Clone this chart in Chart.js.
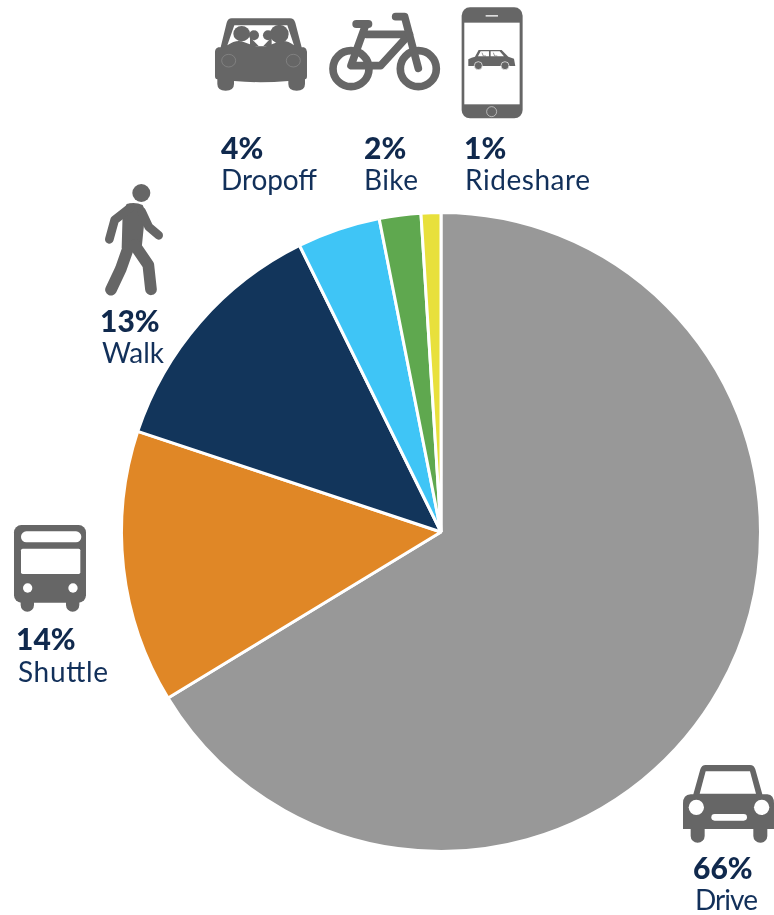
<!DOCTYPE html>
<html>
<head>
<meta charset="utf-8">
<script src="https://cdn.jsdelivr.net/npm/chart.js@4"></script>
<style>
html,body{margin:0;padding:0;background:#fff;width:774px;height:915px;overflow:hidden}
#wrap{position:relative;width:774px;height:915px}
canvas{position:absolute;left:0;top:0}
svg{position:absolute;left:0;top:0}
text{font-family:Lato,sans-serif;font-size:28px;fill:#12305A}
text.pct{font-weight:900;font-size:30px;fill:#10294D}
</style>
</head>
<body>
<div id="wrap">
<canvas id="c" width="774" height="915"></canvas>
<svg id="s" width="774" height="915" viewBox="0 0 774 915">
  <!-- Dropoff car -->
  <g transform="translate(200,0) scale(0.3333)" fill="#666">
    <path d="M95 55H270Q282 55 286 68L305 142H312Q320 145 321 155V228Q321 238 315 238V252Q315 272 290 272Q265 272 265 252V243Q180 250 102 243V252Q102 272 77 272Q52 272 52 252V238Q45 238 45 228V155Q46 145 55 142H62L80 68Q84 55 95 55Z"/>
    <path d="M103 76H262L282 136Q262 120 240 124L195 140H170L125 124Q105 120 82 136Z" fill="#fff"/>
    <ellipse cx="125" cy="101" rx="25" ry="23"/><circle cx="238" cy="102" r="28"/><circle cx="162" cy="106" r="15"/><circle cx="204" cy="106" r="15"/>
    <path d="M150 112L176 138L190 138L215 112L215 140H150Z"/>
    <ellipse cx="86" cy="182" rx="21" ry="19" fill="none" stroke="#999" stroke-width="1.5"/>
    <ellipse cx="280" cy="182" rx="21" ry="19" fill="none" stroke="#999" stroke-width="1.5"/>
  </g>
  <!-- Bike -->
  <g transform="translate(200,0) scale(0.3333)" fill="none" stroke="#666" stroke-width="23" stroke-linecap="round" stroke-linejoin="round">
    <circle cx="453" cy="206" r="54"/><circle cx="655" cy="206" r="54"/>
    <path d="M498 72L453 197H542L628 103H498"/>
    <path d="M587 50H614L655 205"/>
    <path d="M469 72H505" stroke-width="24"/>
  </g>
  <!-- Phone -->
  <g transform="translate(200,0) scale(0.3333)">
    <rect x="785" y="22" width="183" height="333" rx="25" fill="#666"/>
    <rect x="793" y="68" width="166" height="245" fill="#fff"/>
    <rect x="857" y="45" width="37" height="5" fill="#ddd"/>
    <circle cx="875" cy="335" r="15" fill="none" stroke="#ddd" stroke-width="2"/>
    <path d="M805 178Q815 172 825 170L836 150H905L925 170L942 176L946 198H805Z" fill="#666"/>
    <path d="M834 169L842 154H867V169Z M872 154H899L912 169H872Z" fill="#fff"/>
    <path d="M846 158L850 168H858M880 158L884 168H892" stroke="#666" stroke-width="2" fill="none"/>
    <circle cx="835" cy="197" r="12" fill="#666" stroke="#fff" stroke-width="2"/>
    <circle cx="915" cy="197" r="12" fill="#666" stroke="#fff" stroke-width="2"/>
  </g>
  <!-- Walker -->
  <g transform="translate(0,170) scale(0.3333)">
    <circle cx="424" cy="69" r="27" fill="#666"/>
    <path d="M380 102Q405 95 428 105Q440 125 432 165L425 235L365 235L368 130Z" fill="#666"/>
    <path d="M390 114L344 150L328 208" fill="none" stroke="#666" stroke-width="26" stroke-linecap="round" stroke-linejoin="round"/>
    <path d="M425 125L446 170L476 196" fill="none" stroke="#666" stroke-width="26" stroke-linecap="round" stroke-linejoin="round"/>
    <path d="M386 230L362 298L333 359" fill="none" stroke="#666" stroke-width="35" stroke-linecap="round" stroke-linejoin="round"/>
    <path d="M404 225L445 285L453 358" fill="none" stroke="#666" stroke-width="35" stroke-linecap="round" stroke-linejoin="round"/>
  </g>
  <!-- Bus -->
  <g transform="translate(0,510) scale(0.3333)">
    <rect x="42" y="45" width="216" height="233" rx="22" fill="#666"/>
    <path d="M62 270H102V285A20 20 0 0 1 62 285Z M198 270H238V285A20 20 0 0 1 198 285Z" fill="#666"/>
    <rect x="63" y="64" width="181" height="33" rx="16" fill="#fff"/>
    <rect x="63" y="116" width="178" height="76" rx="5" fill="#fff"/>
    <circle cx="83" cy="234" r="14" fill="#fff"/><circle cx="219" cy="234" r="14" fill="#fff"/>
  </g>
  <!-- Drive car -->
  <g transform="translate(664,750) scale(0.3333)">
    <path d="M125 45H258Q270 45 274 58L295 133H310Q330 135 330 160V237H310V258A21 20 0 0 1 268 258V237H122V258A21 20 0 0 1 80 258V237H57V160Q57 135 80 133H88L109 58Q113 45 125 45Z" fill="#666"/>
    <path d="M125 64H258L276 131H107Z" fill="#fff"/>
    <circle cx="97" cy="172" r="23" fill="#fff"/><circle cx="293" cy="172" r="23" fill="#fff"/>
    <rect x="142" y="192" width="107" height="20" rx="10" fill="#fff"/>
  </g>
  <g id="labels"></g>
</svg>
</div>
<script>
const categories = ["Drive", "Shuttle", "Walk", "Dropoff", "Bike", "Rideshare"];
const shares = [66.3, 13.8, 12.6, 4.2, 2.1, 1.0];
const shareLabels = ["66%", "14%", "13%", "4%", "2%", "1%"];
const sliceColors = ["#989898", "#E08726", "#12355B", "#3FC5F6", "#5FA84F", "#E8E03C"];

// label anchors: [pct x, pct baseline, name x, name baseline, name width]
const labelAnchors = [
  [693, 879, 695, 910, 63],
  [16, 650, 18, 682, 90],
  [100, 332, 102, 363, 62],
  [221, 159, 221, 190, 96],
  [364, 159, 364, 190, 54],
  [464, 159, 465, 190, 125]
];

const NS = "http://www.w3.org/2000/svg";
const group = document.getElementById("labels");
categories.forEach((name, i) => {
  const a = labelAnchors[i];
  const p = document.createElementNS(NS, "text");
  p.setAttribute("x", a[0]); p.setAttribute("y", a[1]); p.setAttribute("class", "pct");
  p.textContent = shareLabels[i];
  const n = document.createElementNS(NS, "text");
  n.setAttribute("x", a[2]); n.setAttribute("y", a[3]);
  n.setAttribute("textLength", a[4]); n.setAttribute("lengthAdjust", "spacing");
  n.textContent = name;
  group.appendChild(p); group.appendChild(n);
});

new Chart(document.getElementById("c"), {
  type: "pie",
  data: {
    labels: categories,
    datasets: [{ data: shares, backgroundColor: sliceColors, borderColor: "#ffffff", borderWidth: 3 }]
  },
  options: {
    responsive: false,
    animation: false,
    layout: { padding: { left: 120, right: 12, top: 211, bottom: 62 } },
    plugins: { legend: { display: false }, tooltip: { enabled: false } }
  }
});
</script>
</body>
</html>
